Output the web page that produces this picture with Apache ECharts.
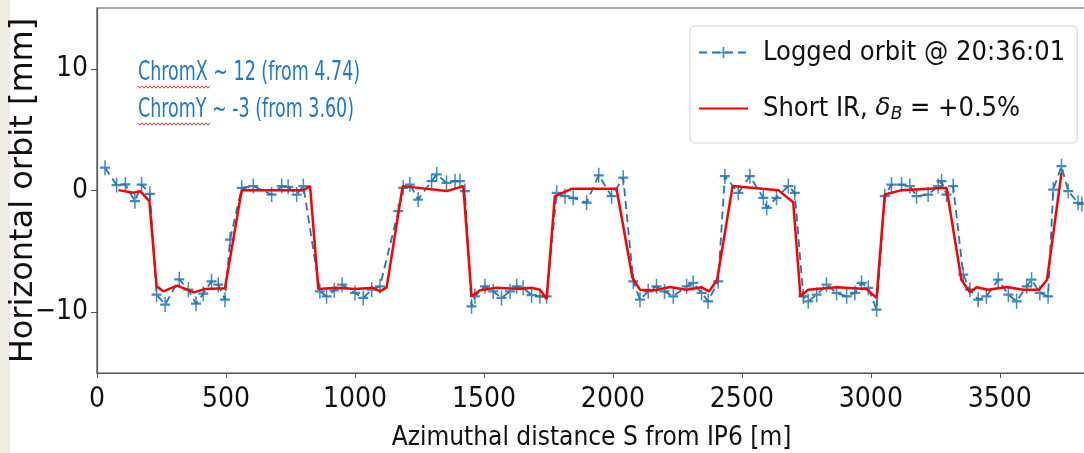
<!DOCTYPE html>
<html>
<head>
<meta charset="utf-8">
<script src="https://cdn.jsdelivr.net/npm/echarts@6/dist/echarts.min.js"></script>
<style>
html,body{margin:0;padding:0;background:#fff;}
#chart{width:1084px;height:453px;}
</style>
</head>
<body>
<div id="chart"></div>
<script>
// ---- data ----
const loggedS = [31,76,110,147,173,205,231,264,319,354,384,412,444,470,496,516,561,606,677,716,741,774,800,864,890,920,950,1000,1032,1065,1097,1168,1187,1213,1245,1297,1317,1355,1388,1407,1426,1452,1465,1504,1536,1568,1601,1627,1652,1685,1717,1743,1782,1814,1846,1898,1945,1995,2040,2079,2105,2137,2169,2200,2234,2286,2311,2344,2369,2408,2434,2486,2531,2583,2596,2634,2680,2705,2738,2757,2790,2828,2867,2906,2938,2964,2990,3022,3054,3080,3119,3151,3177,3222,3261,3274,3293,3319,3358,3384,3416,3448,3494,3533,3565,3604,3623,3655,3687,3707,3739,3765,3803,3818];
const loggedOrbit = [1.87,0.45,0.5,-0.88,0.49,-0.27,-8.56,-9.38,-7.3,-8.15,-9.3,-8.48,-7.46,-7.74,-8.97,-4.03,0.22,0.36,-0.33,0.36,0.3,-0.33,0.36,-8.29,-8.7,-8.2,-7.74,-8.42,-8.83,-8.15,-7.87,-1.7,0.22,0.49,-0.74,0.77,1.32,0.63,0.77,0.77,-0.05,-9.52,-8.7,-7.87,-8.3,-8.83,-8.29,-7.87,-8.0,-8.6,-8.7,-8.7,-0.19,-0.47,-0.6,-1.0,1.25,-0.47,1.05,-7.46,-8.97,-8.29,-7.87,-8.3,-8.7,-7.87,-7.6,-8.42,-9.11,-7.46,1.18,-0.19,1.18,-0.6,-1.43,-0.6,0.36,-0.19,-8.7,-9.11,-8.56,-7.74,-8.42,-8.7,-8.42,-7.6,-8.0,-9.79,-0.47,0.49,0.49,0.36,-0.47,-0.33,0.36,0.77,-0.33,0.36,-6.91,-8.15,-8.97,-8.7,-7.33,-8.56,-9.11,-7.87,-7.33,-8.42,-8.7,0.08,2.0,-0.05,-1.01,-1.1];
const modelS = [83,141,167,203,231,257,311,376,419,496,561,800,826,858,929,1000,1071,1097,1123,1185,1355,1420,1452,1485,1549,1640,1685,1717,1743,1775,1840,2014,2076,2105,2163,2221,2286,2344,2373,2404,2464,2641,2699,2727,2757,2867,2983,3022,3054,3119,3293,3351,3384,3410,3455,3526,3591,3652,3683,3739];
const modelOrbit = [0.03,-0.19,-0.05,-0.88,-7.87,-8.29,-7.82,-8.37,-8.09,-8.04,0.03,0.03,0.36,-8.09,-8.0,-8.1,-8.0,-8.29,-7.96,0.36,-0.05,0.36,-8.7,-8.2,-8.0,-8.09,-8.0,-8.15,-8.91,-0.47,0.14,0.14,-7.19,-8.15,-8.2,-7.93,-8.15,-7.96,-8.29,-7.33,0.36,0.03,-0.96,-8.7,-8.15,-7.96,-8.09,-8.83,-0.33,0.03,0.22,-7.33,-8.37,-7.96,-8.15,-7.93,-8.15,-8.15,-7.33,1.45];
const xTicks = [0,500,1000,1500,2000,2500,3000,3500];
const yTicks = [-10,0,10];
const loggedName = 'Logged orbit @ 20:36:01';
const modelName = 'Short IR, δB = +0.5%';
const noteLines = ['ChromX ~ 12 (from 4.74)', 'ChromY ~ -3 (from 3.60)'];

const NARROW = "'Liberation Sans Narrow','DejaVu Sans Condensed','Roboto Condensed','Liberation Sans',sans-serif";
const pair = (xs, ys) => xs.map((x, i) => [x, ys[i]]);
const plusPath = 'path://M8.5,0h3v8.5h8.5v3h-8.5v8.5h-3v-8.5h-8.5v-3h8.5z';

function wavy(x0, x1, y) {
  const pts = [];
  for (let x = x0, k = 0; x <= x1; x += 2, k++) pts.push([x, y + (k % 2 ? 1.2 : -1.2)]);
  return pts;
}

const chart = echarts.init(document.getElementById('chart'), null, {renderer: 'canvas'});
chart.setOption({
  animation: false,
  backgroundColor: '#ffffff',
  grid: {left: 97, top: 8, right: -2, bottom: 80, containLabel: false, outerBoundsMode: 'none',
         show: true, borderColor: '#555', borderWidth: 1.2, backgroundColor: '#fff'},
  xAxis: {
    type: 'value', min: 0, max: 3834,
    name: 'Azimuthal distance S from IP6 [m]', nameLocation: 'middle', nameGap: 52,
    nameTextStyle: {fontFamily: NARROW, fontSize: 26, color: '#111'},
    axisLine: {show: true, onZero: false, lineStyle: {color: '#555', width: 1.2}},
    axisTick: {show: true, length: 5, customValues: xTicks, lineStyle: {color: '#555'}},
    axisLabel: {customValues: xTicks, fontFamily: NARROW, fontSize: 28, color: '#111', margin: 13,
      formatter: v => String(v)},
    splitLine: {show: false}
  },
  yAxis: {
    type: 'value', min: -15, max: 15,
    name: 'Horizontal orbit [mm]', nameLocation: 'middle', nameGap: 57, nameMoveOverlap: false,
    nameTextStyle: {fontFamily: "'DejaVu Sans',sans-serif", fontSize: 32, color: '#111'},
    axisLine: {show: true, onZero: false, lineStyle: {color: '#555', width: 1.2}},
    axisTick: {show: true, length: 6, customValues: yTicks, lineStyle: {color: '#555'}},
    axisLabel: {customValues: yTicks, fontFamily: NARROW, fontSize: 28, color: '#111', margin: 9,
      formatter: v => v < 0 ? '\u2212' + Math.abs(v) : String(v)},
    splitLine: {show: false}
  },
  legend: {
    orient: 'vertical', left: 690, top: 26,
    padding: [13, 12, 20, 8], itemGap: 29, itemWidth: 49, itemHeight: 14,
    backgroundColor: '#fff', borderColor: '#d4d4d4', borderWidth: 1, borderRadius: 5,
    data: [
      {name: loggedName},
      {name: modelName, itemStyle: {color: 'rgba(0,0,0,0)', borderWidth: 0}}
    ],
    formatter: n => n === modelName ? 'Short IR, {it|δ}{sub|B} = +0.5%' : n,
    textStyle: {
      fontFamily: NARROW, fontSize: 27, color: '#111', padding: [0, 0, 0, 10],
      rich: {
        it: {fontFamily: "'DejaVu Sans',sans-serif", fontStyle: 'italic', fontSize: 25, color: '#111'},
        sub: {fontFamily: "'DejaVu Sans',sans-serif", fontStyle: 'italic', fontSize: 17, color: '#111', padding: [12, 0, 0, 0]}
      }
    }
  },
  graphic: [
    {type: 'rect', left: 0, top: 0, z: -10, shape: {width: 10, height: 453}, style: {fill: '#efece4'}, silent: true},
    {type: 'text', x: 138, y: 73, scaleX: 0.72, style: {text: noteLines[0], x: 0, y: 0, fill: '#1f7ac4', font: "27px " + NARROW, textVerticalAlign: 'middle'}},
    {type: 'text', x: 138, y: 110, scaleX: 0.72, style: {text: noteLines[1], x: 0, y: 0, fill: '#1f7ac4', font: "27px " + NARROW, textVerticalAlign: 'middle'}},
    {type: 'polyline', shape: {points: wavy(138, 210, 87)}, style: {stroke: '#e03838', lineWidth: 1, fill: null}},
    {type: 'polyline', shape: {points: wavy(138, 210, 124)}, style: {stroke: '#e03838', lineWidth: 1, fill: null}}
  ],
  series: [
    {
      name: loggedName, type: 'line', data: pair(loggedS, loggedOrbit),
      symbol: plusPath, symbolSize: [10, 15], showSymbol: true,
      itemStyle: {color: '#1f77b4', opacity: 0.85},
      lineStyle: {color: '#1f77b4', width: 1.8, type: [8, 5]},
      z: 2
    },
    {
      name: modelName, type: 'line', data: pair(modelS, modelOrbit),
      symbol: 'none', showSymbol: false,
      itemStyle: {color: '#ff0000'},
      lineStyle: {color: '#ff0000', width: 2.5},
      z: 3
    }
  ]
});
</script>
</body>
</html>
